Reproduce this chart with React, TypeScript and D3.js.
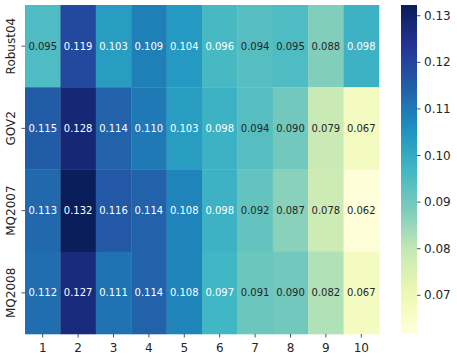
import React from "react";
import * as d3 from "d3";

const rows = ["Robust04", "GOV2", "MQ2007", "MQ2008"];
const cols = ["1", "2", "3", "4", "5", "6", "7", "8", "9", "10"];
const robust04 = [0.095, 0.119, 0.103, 0.109, 0.104, 0.096, 0.094, 0.095, 0.088, 0.098];
const gov2 = [0.115, 0.128, 0.114, 0.110, 0.103, 0.098, 0.094, 0.090, 0.079, 0.067];
const mq2007 = [0.113, 0.132, 0.116, 0.114, 0.108, 0.098, 0.092, 0.087, 0.078, 0.062];
const mq2008 = [0.112, 0.127, 0.111, 0.114, 0.108, 0.097, 0.091, 0.090, 0.082, 0.067];
const colorbarTicks = [0.07, 0.08, 0.09, 0.10, 0.11, 0.12, 0.13];

const values = [robust04, gov2, mq2007, mq2008];
const ylgnbu = ["#ffffd9", "#edf8b1", "#c7e9b4", "#7fcdbb", "#41b6c4", "#1d91c0", "#225ea8", "#253494", "#081d58"];

export default function App() {
  const W = 457, H = 359;
  const left = 25, right = 379, top = 5, bottom = 334;
  const all = values.flat();
  const vmin = (d3.min(all) as number) - 0.0003;
  const vmax = (d3.max(all) as number) + 0.0003;

  const x = d3.scaleBand<string>().domain(cols).range([left, right]);
  const y = d3.scaleBand<string>().domain(rows).range([top, bottom]);
  const norm = d3.scaleLinear().domain([vmin, vmax]).range([0, 1]).clamp(true);
  const cmap = d3.scaleLinear<string>()
    .domain(d3.range(ylgnbu.length).map((i) => i / (ylgnbu.length - 1)))
    .range(ylgnbu)
    .interpolate(d3.interpolateRgb);
  const color = (v: number) => cmap(norm(v));

  const lum = (c: string) => {
    const rgb = d3.rgb(c);
    const f = (u: number) => {
      const s = u / 255;
      return s <= 0.03928 ? s / 12.92 : Math.pow((s + 0.055) / 1.055, 2.4);
    };
    return 0.2126 * f(rgb.r) + 0.7152 * f(rgb.g) + 0.0722 * f(rgb.b);
  };

  const cbX = 401, cbW = 16;
  const cbY = d3.scaleLinear().domain([vmin, vmax]).range([bottom, top]);
  const stops = d3.range(0, 1.0001, 1 / 32);

  const font = "DejaVu Sans, sans-serif";
  const textColor = "#262626";

  return (
    <svg width={W} height={H} style={{ position: "absolute", left: 0, top: 0 }} fontFamily={font}>
      <defs>
        <linearGradient id="cb" x1="0" y1="1" x2="0" y2="0">
          {stops.map((t, i) => (
            <stop key={i} offset={t} stopColor={cmap(t)} />
          ))}
        </linearGradient>
      </defs>
      <rect width={W} height={H} fill="#ffffff" />
      {values.map((row, ri) =>
        row.map((v, ci) => {
          const c = color(v);
          const cx = (x(cols[ci]) as number) + x.bandwidth() / 2;
          const cy = (y(rows[ri]) as number) + y.bandwidth() / 2;
          return (
            <g key={`${ri}-${ci}`}>
              <rect
                x={x(cols[ci])}
                y={y(rows[ri])}
                width={x.bandwidth() + 0.3}
                height={y.bandwidth() + 0.3}
                fill={c}
              />
              <text
                x={cx}
                y={cy}
                textAnchor="middle"
                dominantBaseline="central"
                fontSize={10}
                fill={lum(c) > 0.408 ? textColor : "#ffffff"}
              >
                {v.toFixed(3)}
              </text>
            </g>
          );
        })
      )}
      {cols.map((c) => {
        const cx = (x(c) as number) + x.bandwidth() / 2;
        return (
          <g key={c}>
            <line x1={cx} x2={cx} y1={bottom} y2={bottom + 3.5} stroke={textColor} strokeWidth={0.8} />
            <text x={cx} y={bottom + 18} textAnchor="middle" fontSize={12} fill={textColor}>
              {c}
            </text>
          </g>
        );
      })}
      {rows.map((r) => {
        const cy = (y(r) as number) + y.bandwidth() / 2;
        return (
          <g key={r}>
            <line x1={left - 3.5} x2={left} y1={cy} y2={cy} stroke={textColor} strokeWidth={0.8} />
            <text
              transform={`translate(${15},${cy}) rotate(-90)`}
              textAnchor="middle"
              fontSize={12}
              fill={textColor}
            >
              {r}
            </text>
          </g>
        );
      })}
      <rect x={cbX} y={top} width={cbW} height={bottom - top} fill="url(#cb)" />
      {colorbarTicks.map((t) => (
        <g key={t}>
          <line x1={cbX + cbW} x2={cbX + cbW + 3.5} y1={cbY(t)} y2={cbY(t)} stroke={textColor} strokeWidth={0.8} />
          <text x={cbX + cbW + 7} y={cbY(t)} dominantBaseline="central" fontSize={12} fill={textColor}>
            {t.toFixed(2)}
          </text>
        </g>
      ))}
    </svg>
  );
}
